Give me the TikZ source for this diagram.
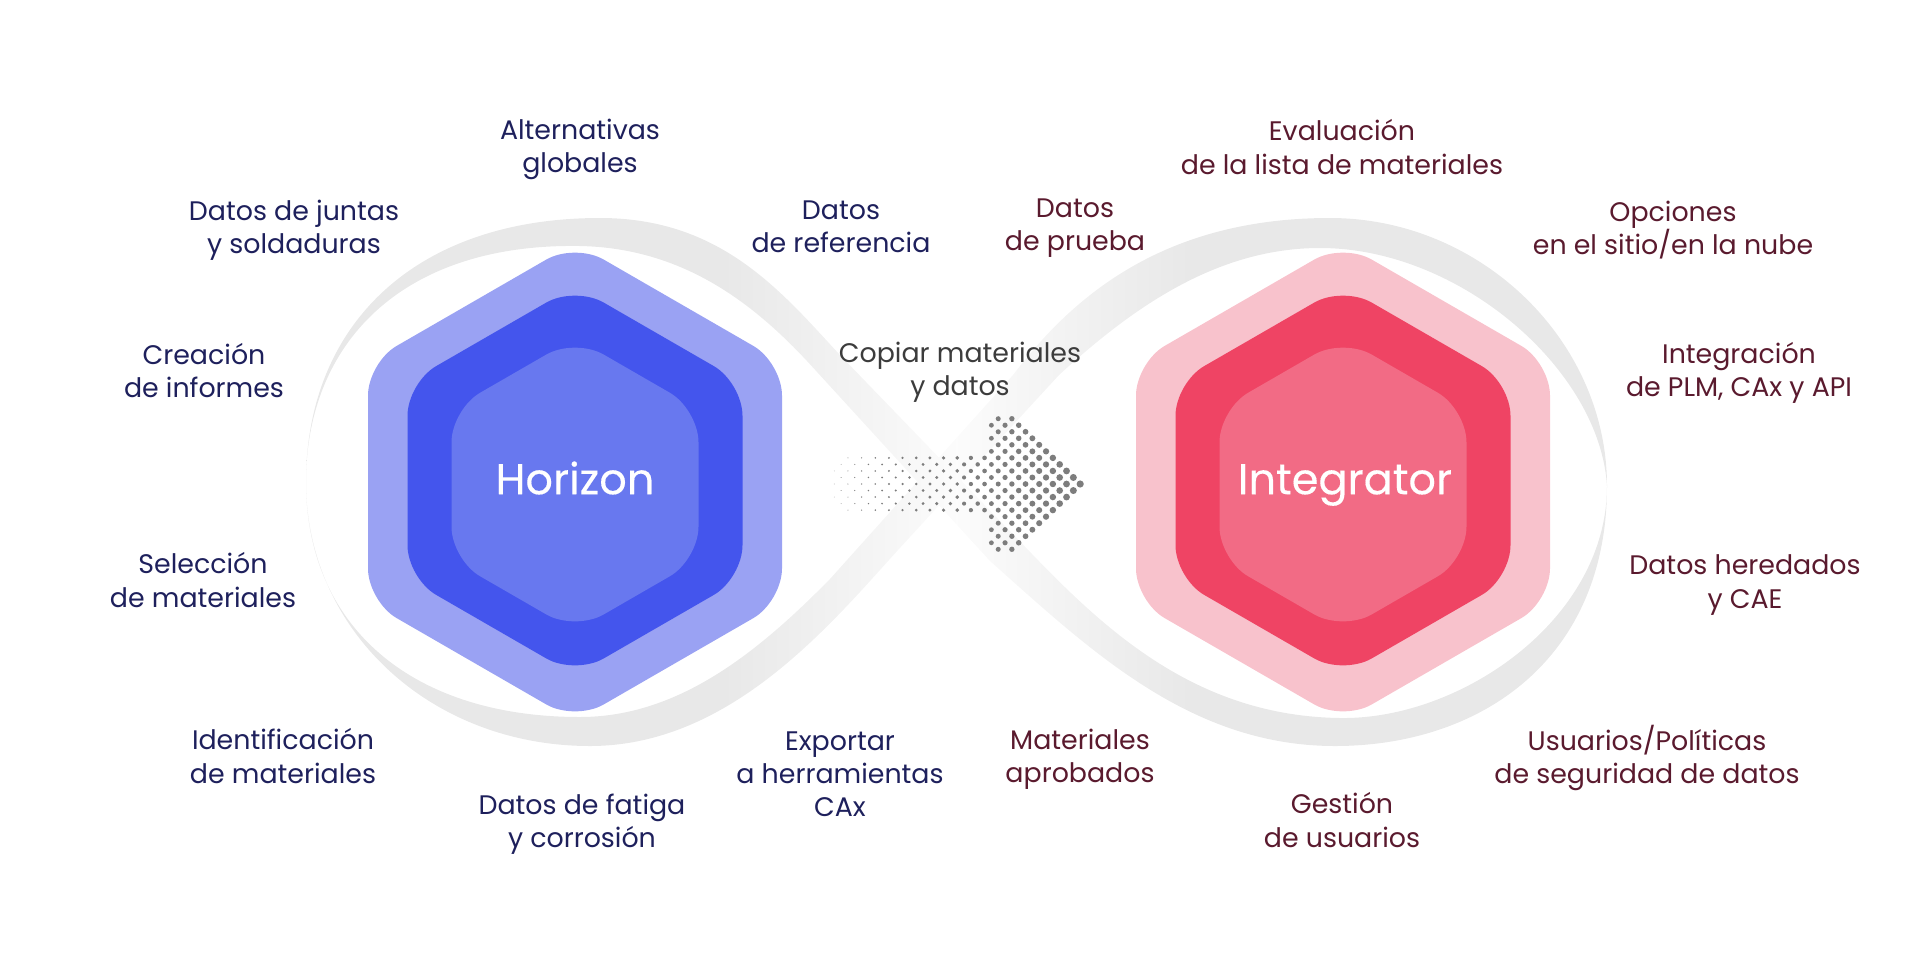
\documentclass[tikz,border=0pt]{standalone}
\usepackage{fontspec}
\setmainfont{Poppins}
\newfontfamily\hexfont[FakeBold=0.25]{Poppins}
\usetikzlibrary{calc}
\definecolor{bandGray}{RGB}{232,232,232}
\definecolor{blueOuter}{RGB}{154,162,243}
\definecolor{blueMid}{RGB}{68,85,237}
\definecolor{blueInner}{RGB}{104,120,239}
\definecolor{redOuter}{RGB}{248,194,204}
\definecolor{redMid}{RGB}{239,68,100}
\definecolor{redInner}{RGB}{242,107,133}
\definecolor{textBlue}{RGB}{30,32,92}
\definecolor{textRed}{RGB}{90,26,46}
\definecolor{textGray}{RGB}{60,60,60}
\definecolor{dotGray}{RGB}{125,125,125}
\pgfdeclarehorizontalshading{bandFade}{100bp}{
	color(0bp)=(bandGray); color(41bp)=(bandGray); color(50bp)=(white!85!bandGray);
	color(59bp)=(bandGray); color(100bp)=(bandGray)}
\tikzset{
	label text/.style={align=center, inner sep=0pt, font=\fontsize{7.63}{9.4}\selectfont},
	blue label/.style={label text, text=textBlue},
	red label/.style={label text, text=textRed},
	mid label/.style={label text, text=textGray},
	hex label/.style={inner sep=0pt, text=white, font=\hexfont\fontsize{12.25}{14}\selectfont}
}
\newcommand{\drawHexagon}[5]{
   	\fill[#5, rounded corners=0.33cm] ($(#1,#2)+(0,-#4)$) -- ($(#1,#2)+(#3,{-(#4-0.577*#3)})$) -- ($(#1,#2)+(#3,{#4-0.577*#3})$) -- ($(#1,#2)+(0,#4)$) -- ($(#1,#2)+(-#3,{#4-0.577*#3})$) -- ($(#1,#2)+(-#3,{-(#4-0.577*#3)})$) -- cycle;
}

\begin{document}
\begin{tikzpicture}[x=0.01cm, y=-0.01cm]
\useasboundingbox (0,0) rectangle (1920,960);

%Infinity band
	\shade[shading=bandFade] (306,482) .. controls (306,325) and (415,218) .. (600,218)
		.. controls (720,218) and (780,290) .. (839,354) -- (1032,554)
		.. controls (1110,635) and (1200,716) .. (1340,718)
		.. controls (1460,720) and (1607,620) .. (1607,486)
		.. controls (1607,660) and (1480,746) .. (1335,746)
		.. controls (1190,746) and (1090,650) .. (990,561) -- (807,361)
		.. controls (750,300) and (680,248) .. (580,246)
		.. controls (400,243) and (306,345) .. (306,482) -- cycle;
	\shade[shading=bandFade] (306,482) .. controls (306,625) and (410,717) .. (580,717)
		.. controls (680,717) and (760,650) .. (830,579) -- (1013,375)
		.. controls (1070,300) and (1160,218) .. (1330,218)
		.. controls (1480,218) and (1607,340) .. (1607,486)
		.. controls (1600,370) and (1460,248) .. (1320,248)
		.. controls (1215,248) and (1130,310) .. (1059,375) -- (898,550)
		.. controls (830,625) and (730,746) .. (590,746)
		.. controls (430,746) and (306,630) .. (306,482) -- cycle;

% Hexagons
\drawHexagon{575}{482}{207}{239}{blueOuter}
\drawHexagon{575}{480.5}{167.5}{194.5}{blueMid}
\drawHexagon{575}{484.5}{123.5}{146.5}{blueInner}
\drawHexagon{1343}{482}{207}{239}{redOuter}
\drawHexagon{1343}{480.5}{167.5}{194.5}{redMid}
\drawHexagon{1343}{484.5}{123.5}{146.5}{redInner}

	\node[hex label] (horizon) at (575,478) {Horizon};
	\node[hex label] (integrator) at (1345,485) {Integrator};

% Dotted arrow
	\foreach \i in {0,...,36}
	{
		\foreach \j in {-10,...,10}
		{
			\pgfmathtruncatemacro{\keep}{and(iseven(\i+\j), and(\i+abs(\j)<=36, or(\i>=23, and(abs(\j)<=4, \i>=abs(\j)-2))))}
			\ifnum\keep=1
				\fill[dotGray] ({834.3+6.83*\i},{484+6.53*\j}) circle ({0.35+0.09*\i});
			\fi
		}
	}

% Left labels
	\node[blue label] (alternativas) at (580,149.5) {Alternativas\\globales};
	\node[blue label] (juntas) at (294,230) {Datos de juntas\\y soldaduras};
	\node[blue label] (referencia) at (841,227) {Datos\\de referencia};
	\node[blue label] (informes) at (204,370.5) {Creación\\de informes};
	\node[blue label] (seleccion) at (203,580) {Selección\\de materiales};
	\node[blue label] (identificacion) at (283,756) {Identificación\\de materiales};
	\node[blue label] (fatiga) at (582,824) {Datos de fatiga\\y corrosión};
	\node[blue label] (exportar) at (840,774) {Exportar\\a herramientas\\CAx};

	\node[mid label] (copiar) at (960,372) {Copiar materiales\\y datos};

% Right labels
	\node[red label] (prueba) at (1075,228) {Datos\\de prueba};
	\node[red label] (evaluacion) at (1342,147) {Evaluación\\de la lista de materiales};
	\node[red label] (opciones) at (1673,230.5) {Opciones\\en el sitio/en la nube};
	\node[red label] (integracion) at (1739,373) {Integración\\de PLM, CAx y API};
	\node[red label] (heredados) at (1745,585) {Datos heredados\\y CAE};
	\node[red label] (usuarios) at (1647,758) {Usuarios/Políticas\\de seguridad de datos};
	\node[red label] (gestion) at (1342,820) {Gestión\\de usuarios};
	\node[red label] (aprobados) at (1080,759.5) {Materiales\\aprobados};

\end{tikzpicture}
\end{document}
